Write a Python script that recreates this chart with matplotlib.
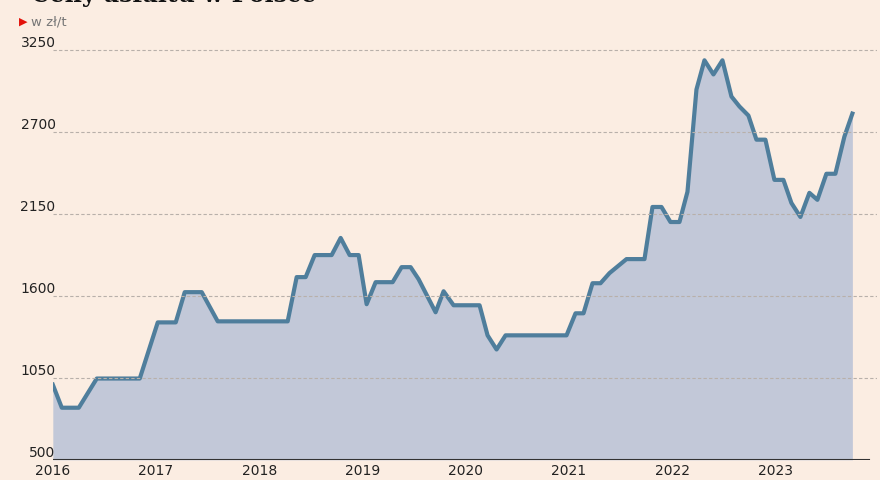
import matplotlib
matplotlib.use("Agg")
import matplotlib.pyplot as plt

px = [53,62,79,97,140,158,176,185,202,218,288,297,306,315,332,341,350,359,367,376,393,402,411,419,436,444,454,480,488,497,506,567,576,584,593,601,610,627,645,653,662,671,680,688,697,705,714,723,732,740,749,757,766,775,784,792,801,810,818,827,836,845,853]
values = [1005,850,850,1046,1046,1423,1423,1626,1626,1430,1430,1727,1727,1875,1875,1990,1875,1875,1545,1693,1693,1794,1794,1713,1491,1632,1538,1538,1336,1241,1336,1336,1484,1484,1686,1686,1754,1848,1848,2198,2198,2097,2097,2300,2987,3183,3088,3183,2940,2873,2812,2650,2650,2380,2380,2225,2131,2293,2246,2421,2421,2670,2825]
dates = [2016 + (p - 53) / 103.3 for p in px]
yticks = [500, 1050, 1600, 2150, 2700, 3250]
years = list(range(2016, 2024))

bg = "#fbede2"
fig = plt.figure(figsize=(8.8, 4.8), dpi=100, facecolor=bg)
ax = fig.add_axes([0.06, 0.042, 0.937, 0.86], facecolor=bg)
ax.fill_between(dates, values, 500, color="#c2c8d8", lw=0)
ax.plot(dates, values, color="#4f7e9c", lw=3, solid_joinstyle="round")
ax.set_xlim(2016, 2016 + (878 - 53) / 103.3)
ax.set_ylim(500, 3250 + 550 * 0.04)
for s in ax.spines.values():
    s.set_visible(False)
ax.axhline(500, color="#333333", lw=1.5, xmin=0, xmax=(870 - 53) / (878 - 53))
for t in yticks[1:]:
    ax.axhline(t, color="#b8b0aa", lw=0.8, ls=(0, (3, 2)))
ax.set_yticks(yticks)
ax.set_yticklabels([str(t) for t in yticks], fontsize=10, color="#222222")
ax.tick_params(axis="y", length=0, pad=-2)
for lab in ax.get_yticklabels():
    lab.set_horizontalalignment("right")
    lab.set_verticalalignment("bottom")
ax.set_xticks(years)
ax.set_xticklabels([str(y) for y in years], fontsize=10, color="#222222")
ax.tick_params(axis="x", length=0, pad=3)
fig.text(0.035, 0.985, "Ceny asfaltu w Polsce", fontsize=17, fontweight="bold",
         family="DejaVu Serif", va="bottom", color="#111111")
fig.text(0.022, 0.955, "\u25B6", fontsize=8, color="#e3120b", va="center")
fig.text(0.035, 0.955, "w zł/t", fontsize=9.5, color="#777777", va="center")
fig.savefig("out.png", dpi=100, facecolor=bg)
